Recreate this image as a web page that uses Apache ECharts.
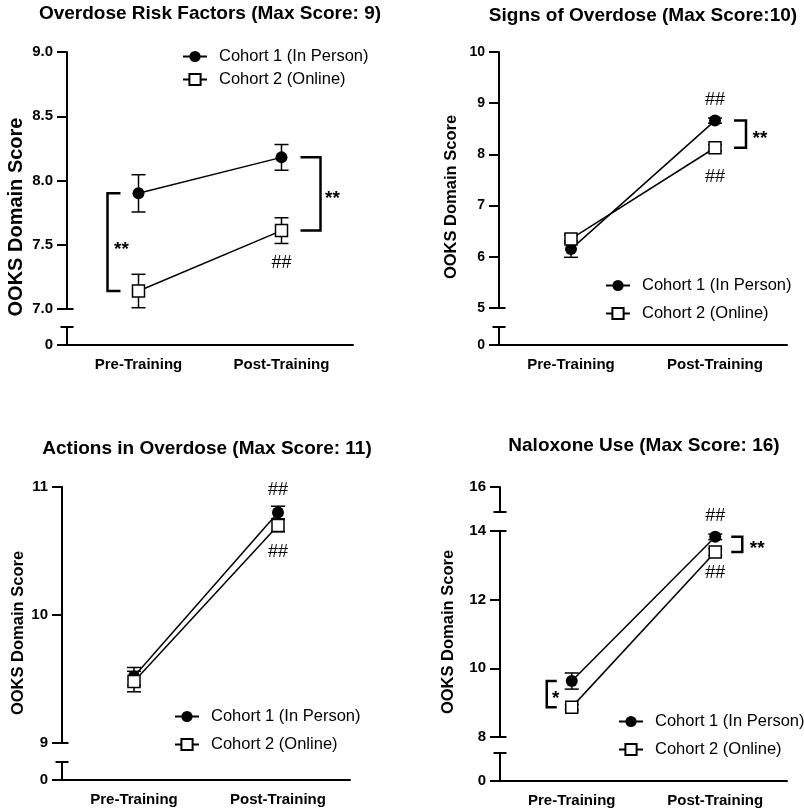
<!DOCTYPE html>
<html>
<head>
<meta charset="utf-8">
<script src="https://cdn.jsdelivr.net/npm/echarts@6/dist/echarts.min.js"></script>
<style>
html, body { margin: 0; padding: 0; background: #fff; }
#chart { width: 804px; height: 812px; }
</style>
</head>
<body>
<div id="chart"></div>
<script>
var categories = ['Pre-Training', 'Post-Training'];
var cohortNames = ['Cohort 1 (In Person)', 'Cohort 2 (Online)'];
var yName = 'OOKS Domain Score';

// Overdose Risk Factors
var riskC1 = [7.90, 8.18];
var riskC1Sem = [0.145, 0.10];
var riskC2 = [7.14, 7.61];
var riskC2Sem = [0.13, 0.10];
var riskTicks = [7.0, 7.5, 8.0, 8.5, 9.0];
var riskStars = ['**', '**'];
var riskHashC1 = ['', ''];
var riskHashC2 = ['', '##'];

// Signs of Overdose
var signsC1 = [6.15, 8.66];
var signsC1Sem = [0.16, 0.05];
var signsC2 = [6.35, 8.13];
var signsC2Sem = [0.08, 0.06];
var signsTicks = [5, 6, 7, 8, 9, 10];
var signsStars = ['', '**'];
var signsHashC1 = ['', '##'];
var signsHashC2 = ['', '##'];

// Actions in Overdose
var actionsC1 = [9.52, 10.80];
var actionsC1Sem = [0.07, 0.05];
var actionsC2 = [9.48, 10.70];
var actionsC2Sem = [0.08, 0.05];
var actionsTicks = [9, 10, 11];
var actionsStars = ['', ''];
var actionsHashC1 = ['', '##'];
var actionsHashC2 = ['', '##'];

// Naloxone Use
var naloxC1 = [9.63, 13.83];
var naloxC1Sem = [0.235, 0.08];
var naloxC2 = [8.87, 13.39];
var naloxC2Sem = [0.08, 0.10];
var naloxTicks = [8, 10, 12, 14];
var naloxTopTicks = [16];
var naloxStars = ['*', '**'];
var naloxHashC1 = ['', '##'];
var naloxHashC2 = ['', '##'];

var zeroTick = [0];

var FONT = '"Liberation Sans", Arial, sans-serif';
var grids = [], xAxes = [], yAxes = [], series = [], legends = [], graphics = [];

function plainFmt(v) { return String(v); }

function yAxisFor(gi, min, max, ticks, caps, fmt, size) {
    return {
        gridIndex: gi, type: 'value', min: min, max: max,
        axisLine: {show: true, lineStyle: {color: '#000', width: 2}, symbol: caps, symbolSize: [13, 2]},
        axisTick: {show: true, length: 10, customValues: ticks, lineStyle: {color: '#000', width: 2}},
        axisLabel: {customValues: ticks, margin: 14, formatter: fmt, color: '#000', fontSize: size, fontWeight: 'bold', fontFamily: FONT},
        splitLine: {show: false}
    };
}

function addGrid(p, top, bottom) {
    var gi = grids.length;
    grids.push({left: p.x, top: top, width: p.w, height: bottom - top, outerBoundsMode: 'none'});
    return gi;
}

function addPanel(p) {
    var fmt = p.fmt || plainFmt;

    // optional upper segment (axis break)
    if (p.upper) {
        var gu = addGrid(p, p.upper.top, p.upper.bottom);
        xAxes.push({gridIndex: gu, type: 'category', data: categories, show: false});
        yAxes.push(yAxisFor(gu, p.upper.min, p.upper.ticks[p.upper.ticks.length - 1], p.upper.ticks, ['rect', 'none'], fmt, p.tickSize));
    }

    // main segment
    var gm = addGrid(p, p.top, p.bottom);
    xAxes.push({gridIndex: gm, type: 'category', data: categories, show: false});
    yAxes.push(yAxisFor(gm, p.ticks[0], p.ticks[p.ticks.length - 1], p.ticks, ['rect', p.upper ? 'rect' : 'none'], fmt, p.tickSize));

    // lower segment with zero and the x axis
    var gl = addGrid(p, p.lowTop, p.axisY);
    xAxes.push({
        gridIndex: gl, type: 'category', data: categories,
        axisLine: {lineStyle: {color: '#000', width: 2}},
        axisTick: {alignWithLabel: true, length: 7, lineStyle: {color: '#000', width: 2}},
        axisLabel: {margin: 12, color: '#000', fontSize: 15, fontWeight: 'bold', fontFamily: FONT}
    });
    yAxes.push(yAxisFor(gl, 0, 1, zeroTick, ['none', 'rect'], plainFmt, p.tickSize));

    // error bars (mean +/- SEM)
    function errSeries(means, sems) {
        return {
            type: 'custom', xAxisIndex: gm, yAxisIndex: gm, z: 1, silent: true,
            data: means.map(function (m, i) { return [i, m, sems[i]]; }),
            renderItem: function (params, api) {
                var i = api.value(0), m = api.value(1), s = api.value(2);
                var hi = api.coord([i, m + s]), lo = api.coord([i, m - s]);
                var st = {stroke: '#000', lineWidth: 1.5};
                return {type: 'group', children: [
                    {type: 'line', shape: {x1: hi[0], y1: hi[1], x2: lo[0], y2: lo[1]}, style: st},
                    {type: 'line', shape: {x1: hi[0] - 7, y1: hi[1], x2: hi[0] + 7, y2: hi[1]}, style: st},
                    {type: 'line', shape: {x1: lo[0] - 7, y1: lo[1], x2: lo[0] + 7, y2: lo[1]}, style: st}
                ]};
            }
        };
    }
    series.push(errSeries(p.c1, p.c1Sem));
    series.push(errSeries(p.c2, p.c2Sem));

    series.push({
        name: cohortNames[0], type: 'line', xAxisIndex: gm, yAxisIndex: gm, z: 3,
        data: p.c1, symbol: 'circle', symbolSize: 12,
        lineStyle: {color: '#000', width: 1.5},
        itemStyle: {color: '#000'},
        emphasis: {disabled: true}
    });
    series.push({
        name: cohortNames[1], type: 'line', xAxisIndex: gm, yAxisIndex: gm, z: 4,
        data: p.c2, symbol: 'rect', symbolSize: 12,
        lineStyle: {color: '#000', width: 1.5},
        itemStyle: {color: '#fff', borderColor: '#000', borderWidth: 1.5},
        emphasis: {disabled: true}
    });

    // significance brackets and ## marks
    series.push({
        type: 'custom', xAxisIndex: gm, yAxisIndex: gm, z: 5, silent: true,
        data: categories.map(function (c, i) { return [i]; }),
        renderItem: function (params, api) {
            var i = api.value(0);
            var a = api.coord([i, p.c1[i]]), b = api.coord([i, p.c2[i]]);
            var kids = [];
            if (p.stars[i]) {
                var br = p.brackets[i];
                var bx = a[0] + br.dx, dir = br.dx < 0 ? 1 : -1;
                kids.push({type: 'polyline',
                    shape: {points: [[bx + dir * br.arm, a[1]], [bx, a[1]], [bx, b[1]], [bx + dir * br.arm, b[1]]]},
                    style: {stroke: '#000', fill: null, lineWidth: 2.5, lineJoin: 'miter'}});
                kids.push({type: 'text', x: bx + br.tx, y: (a[1] + b[1]) / 2 + br.ty,
                    style: {text: p.stars[i], fill: '#000', fontSize: 19, fontWeight: 'bold', fontFamily: FONT, align: 'center', verticalAlign: 'middle'}});
            }
            var hs = {fill: '#000', fontSize: 18, fontFamily: FONT, align: 'center', verticalAlign: 'middle'};
            if (p.hashC1[i]) kids.push({type: 'text', x: a[0], y: a[1] + p.hashAbove, style: Object.assign({text: p.hashC1[i]}, hs)});
            if (p.hashC2[i]) kids.push({type: 'text', x: b[0], y: b[1] + p.hashBelow, style: Object.assign({text: p.hashC2[i]}, hs)});
            return {type: 'group', children: kids};
        }
    });

    legends.push({
        data: cohortNames, orient: 'vertical', left: p.legend[0], top: p.legend[1],
        padding: 0, itemGap: p.legendGap, itemWidth: 24, itemHeight: 14, selectedMode: false,
        textStyle: {color: '#000', fontSize: 16.5, fontFamily: FONT, padding: [0, 0, 0, 7]}
    });

    graphics.push({type: 'text', x: p.titlePos[0], y: p.titlePos[1],
        style: {text: p.title, fill: '#000', fontSize: 19, fontWeight: 'bold', fontFamily: FONT, align: 'center', verticalAlign: 'middle'}});
    graphics.push({type: 'text', x: p.namePos[0], y: p.namePos[1], rotation: Math.PI / 2,
        style: {text: yName, fill: '#000', fontSize: p.nameSize, fontWeight: 'bold', fontFamily: FONT, align: 'center', verticalAlign: 'middle'}});
}

addPanel({
    title: 'Overdose Risk Factors (Max Score: 9)', titlePos: [210, 14],
    namePos: [16.5, 217], nameSize: 20,
    x: 67, w: 286, top: 52, bottom: 309, lowTop: 327, axisY: 345,
    ticks: riskTicks, tickSize: 15, fmt: function (v) { return v.toFixed(1); },
    c1: riskC1, c1Sem: riskC1Sem, c2: riskC2, c2Sem: riskC2Sem,
    stars: riskStars, hashC1: riskHashC1, hashC2: riskHashC2,
    brackets: [{dx: -31, arm: 13, tx: 14, ty: 8}, {dx: 39, arm: 20, tx: 12, ty: 5}],
    hashAbove: -22, hashBelow: 32,
    legend: [182, 48], legendGap: 6
});

addPanel({
    title: 'Signs of Overdose (Max Score:10)', titlePos: [643, 16],
    namePos: [451, 197], nameSize: 16.5,
    x: 499, w: 288, top: 52, bottom: 308, lowTop: 327, axisY: 345,
    ticks: signsTicks, tickSize: 14,
    c1: signsC1, c1Sem: signsC1Sem, c2: signsC2, c2Sem: signsC2Sem,
    stars: signsStars, hashC1: signsHashC1, hashC2: signsHashC2,
    brackets: [null, {dx: 31, arm: 12, tx: 14, ty: 5}],
    hashAbove: -21, hashBelow: 29,
    legend: [605, 277], legendGap: 11
});

addPanel({
    title: 'Actions in Overdose (Max Score: 11)', titlePos: [207, 449],
    namePos: [18.5, 633], nameSize: 16.5,
    x: 62, w: 288, top: 487, bottom: 743, lowTop: 762, axisY: 780,
    ticks: actionsTicks, tickSize: 15,
    c1: actionsC1, c1Sem: actionsC1Sem, c2: actionsC2, c2Sem: actionsC2Sem,
    stars: actionsStars, hashC1: actionsHashC1, hashC2: actionsHashC2,
    brackets: [null, null],
    hashAbove: -23, hashBelow: 27,
    legend: [174, 708], legendGap: 11
});

addPanel({
    title: 'Naloxone Use (Max Score: 16)', titlePos: [644, 446],
    namePos: [448.5, 632], nameSize: 16.5,
    x: 500, w: 287, top: 531, bottom: 737, lowTop: 753, axisY: 781,
    upper: {top: 487, bottom: 512, min: 15.27, ticks: naloxTopTicks},
    ticks: naloxTicks, tickSize: 15,
    c1: naloxC1, c1Sem: naloxC1Sem, c2: naloxC2, c2Sem: naloxC2Sem,
    stars: naloxStars, hashC1: naloxHashC1, hashC2: naloxHashC2,
    brackets: [{dx: -25, arm: 10, tx: 9, ty: 5}, {dx: 27, arm: 11, tx: 15, ty: 4}],
    hashAbove: -21, hashBelow: 21,
    legend: [618, 713], legendGap: 11
});

var myChart = echarts.init(document.getElementById('chart'));
myChart.setOption({
    animation: false,
    backgroundColor: '#fff',
    grid: grids,
    xAxis: xAxes,
    yAxis: yAxes,
    legend: legends,
    series: series,
    graphic: graphics
});
</script>
</body>
</html>
